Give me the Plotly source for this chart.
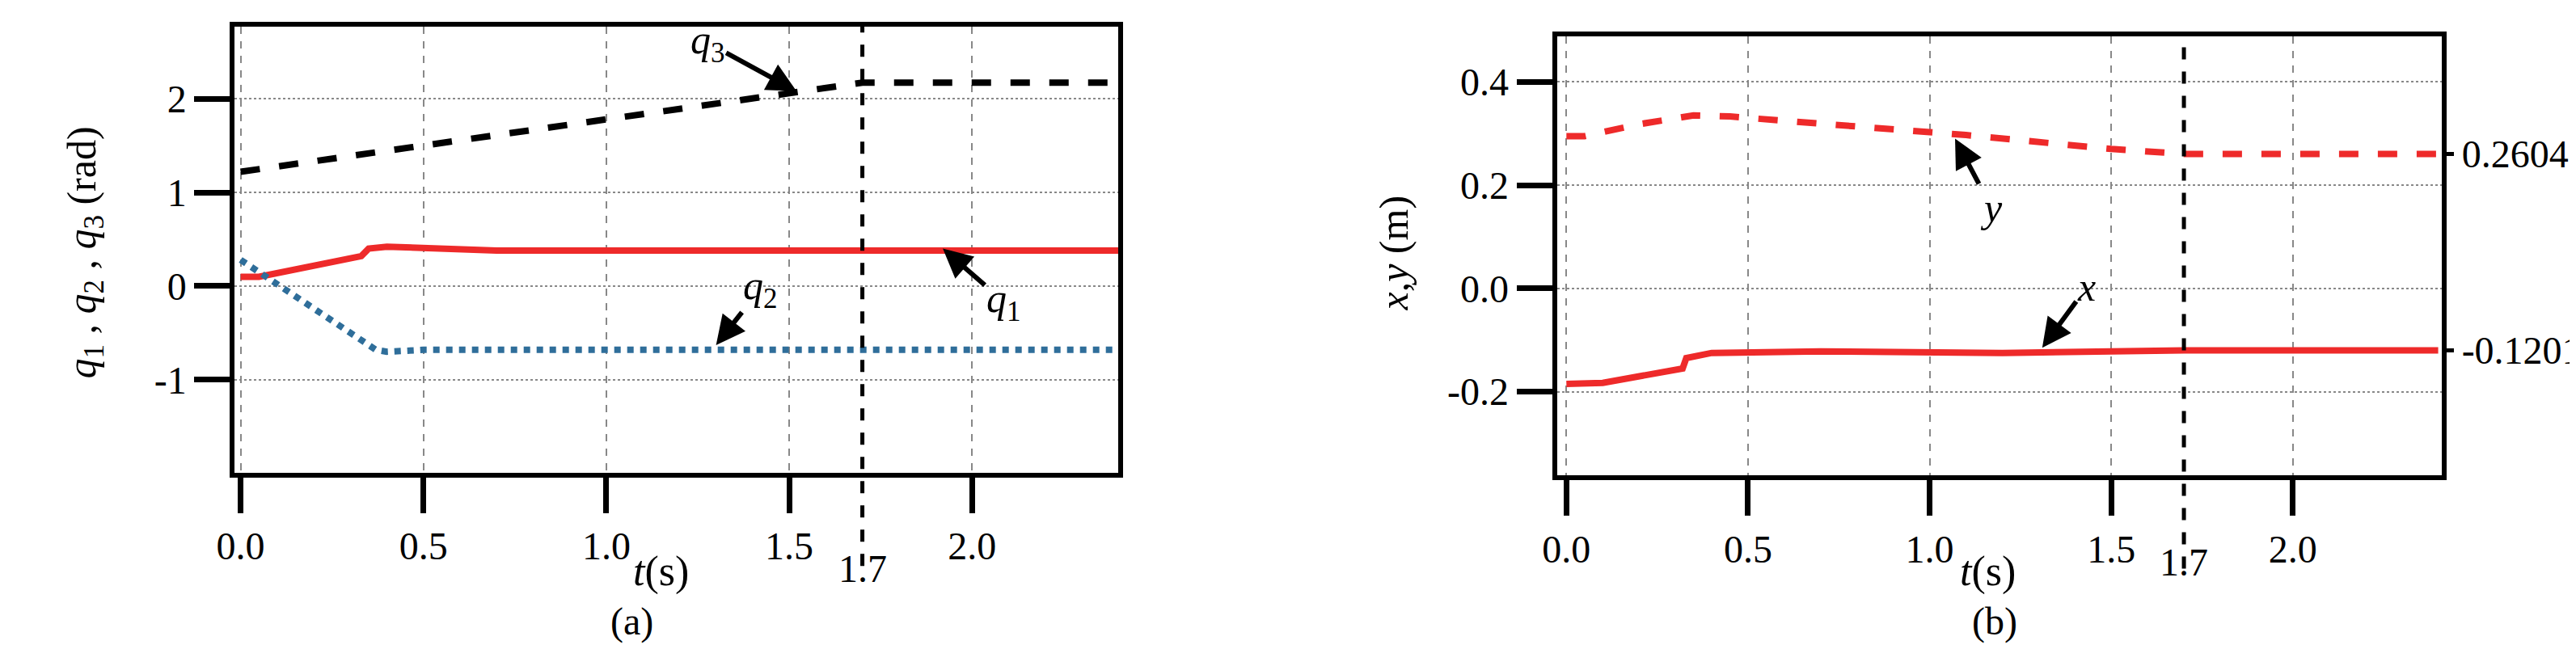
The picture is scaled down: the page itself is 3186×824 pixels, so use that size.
import plotly.graph_objects as go

t_q1 = [0, 0.05, 0.33, 0.35, 0.4, 0.55, 0.7, 1.2, 1.7, 2.4]
q1 = [0.1, 0.1, 0.32, 0.4, 0.42, 0.4, 0.38, 0.38, 0.38, 0.38]
t_q2 = [0, 0.37, 0.4, 0.5, 1.7, 2.4]
q2 = [0.28, -0.68, -0.7, -0.68, -0.68, -0.68]
t_q3 = [0, 1.7, 2.4]
q3 = [1.22, 2.17, 2.17]
t_x = [0, 0.1, 0.32, 0.33, 0.4, 0.7, 1.2, 1.7, 2.4]
xs = [-0.185, -0.183, -0.155, -0.135, -0.125, -0.122, -0.125, -0.1201, -0.1201]
t_y = [0, 0.05, 0.2, 0.35, 0.45, 0.6, 0.9, 1.1, 1.5, 1.7, 2.4]
ys = [0.295, 0.295, 0.318, 0.335, 0.333, 0.325, 0.31, 0.297, 0.27, 0.2604, 0.2604]
xticks = [0, 0.5, 1.0, 1.5, 2.0]
xticktext = ["0.0", "0.5", "1.0", "1.5", "2.0"]
ya_ticks = [-1, 0, 1, 2]
yb_ticks = [-0.2, 0.0, 0.2, 0.4]
yb_text = ["-0.2", "0.0", "0.2", "0.4"]
final_vals = [0.2604, -0.1201]
t_mark = 1.7

F = "Liberation Serif"
fig = go.Figure()
fig.add_trace(go.Scatter(x=t_q3, y=q3, mode="lines", line=dict(color="black", width=8, dash="dash"), xaxis="x", yaxis="y"))
fig.add_trace(go.Scatter(x=t_q1, y=q1, mode="lines", line=dict(color="#ee2a2a", width=8), xaxis="x", yaxis="y"))
fig.add_trace(go.Scatter(x=t_q2, y=q2, mode="lines", line=dict(color="#2f6e9a", width=8, dash="dot"), xaxis="x", yaxis="y"))
fig.add_trace(go.Scatter(x=t_y, y=ys, mode="lines", line=dict(color="#ee2a2a", width=8, dash="dash"), xaxis="x2", yaxis="y2"))
fig.add_trace(go.Scatter(x=t_x, y=xs, mode="lines", line=dict(color="#ee2a2a", width=8), xaxis="x2", yaxis="y2"))
fig.add_trace(go.Scatter(x=[None], y=[None], xaxis="x2", yaxis="y3", showlegend=False))

ax = dict(showline=True, linewidth=6, linecolor="black", mirror=True, ticks="outside", ticklen=44, tickwidth=7,
          tickcolor="black", showgrid=True, gridcolor="#888", griddash="dot", gridwidth=2, zeroline=False,
          tickfont=dict(family=F, size=48, color="black"))
xgrid = dict(griddash="dash")
fig.update_layout(
    width=3186, height=824, margin=dict(l=0, r=0, t=0, b=0), plot_bgcolor="white", paper_bgcolor="white", showlegend=False,
    font=dict(family=F, color="black"),
    xaxis=dict(ax, **xgrid, domain=[0.082, 0.4275], range=[-0.016, 2.40], tickvals=xticks, ticktext=xticktext, anchor="y"),
    yaxis=dict(ax, domain=[0.30, 0.97], range=[-1.99, 2.77], tickvals=ya_ticks, ticktext=["-1", "0", "1", "2"], anchor="x"),
    xaxis2=dict(ax, **xgrid, domain=[0.599, 0.945], range=[-0.026, 2.41], tickvals=xticks, ticktext=xticktext, anchor="y2"),
    yaxis2=dict(ax, domain=[0.296, 0.955], range=[-0.362, 0.488], tickvals=yb_ticks, ticktext=yb_text, anchor="x2"),
    yaxis3=dict(overlaying="y2", side="right", anchor="x2", range=[-0.362, 0.488], tickvals=final_vals,
                ticktext=[f"{v:.4f}" for v in final_vals], ticks="outside", ticklen=14, tickwidth=5, tickcolor="black",
                showgrid=False, zeroline=False, tickfont=dict(family=F, size=48, color="black")),
)
for xr, y0, y1 in (("x", 0.30, 0.97), ("x2", 0.296, 0.955)):
    fig.add_shape(type="line", xref=xr, yref="paper", x0=t_mark, x1=t_mark, y0=y0 - 0.14, y1=y1,
                  line=dict(color="black", width=5, dash="dash"))

def txt(x, y, s, size=48, xref="paper", yref="paper", **kw):
    fig.add_annotation(x=x, y=y, xref=xref, yref=yref, text=s, showarrow=False,
                       font=dict(family=F, size=size, color="black"), **kw)

txt(t_mark, 1 - 724 / 824, "1.7", xref="x")
txt(t_mark, 1 - 716 / 824, "1.7", xref="x2")
txt(1.15, 1 - 730 / 824, "<i>t</i>(s)", size=52, xref="x")
txt(1.16, 1 - 730 / 824, "<i>t</i>(s)", size=52, xref="x2")
txt(1.07, 1 - 790 / 824, "(a)", size=48, xref="x")
txt(1.18, 1 - 790 / 824, "(b)", size=48, xref="x2")
txt(40 / 3186, 0.63, "<i>q</i><sub>1</sub> , <i>q</i><sub>2</sub> , <i>q</i><sub>3</sub> (rad)", size=50, textangle=-90)
txt(1705 / 3186, 0.63, "<i>x</i>,<i>y</i> (m)", size=50, textangle=-90)

def arr(x, y, ax_, ay_, s, xr, yr):
    fig.add_annotation(x=x, y=y, xref=xr, yref=yr, ax=ax_, ay=ay_, axref="pixel", ayref="pixel",
                       text=s, showarrow=True, arrowhead=2, arrowsize=1.2, arrowwidth=6, arrowcolor="black",
                       font=dict(family=F, size=50, color="black"))

arr(1.52, 2.08, -110, -60, "<i>q</i><sub>3</sub>", "x", "y")
arr(1.3, -0.63, 55, -70, "<i>q</i><sub>2</sub>", "x", "y")
arr(1.92, 0.4, 75, 65, "<i>q</i><sub>1</sub>", "x", "y")
arr(1.07, 0.29, 45, 85, "<i>y</i>", "x2", "y2")
arr(1.31, -0.115, 55, -75, "<i>x</i>", "x2", "y2")
fig.write_html("out.html")
